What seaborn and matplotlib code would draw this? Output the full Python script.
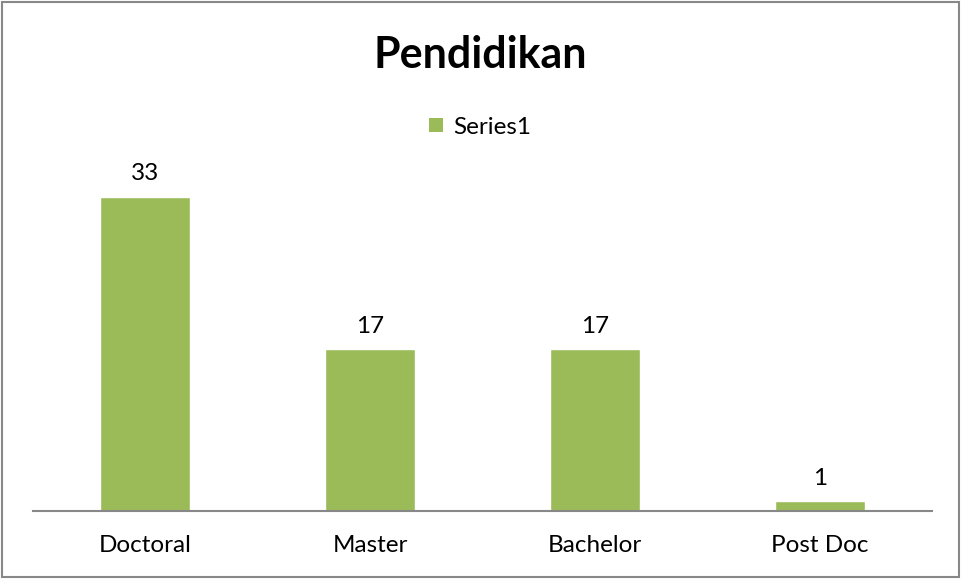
import matplotlib
matplotlib.use("Agg")
import matplotlib.pyplot as plt
import seaborn as sns
from matplotlib.patches import Patch, Rectangle

categories = ["Doctoral", "Master", "Bachelor", "Post Doc"]
values = [33, 17, 17, 1]
series_name = "Series1"
title = "Pendidikan"

bar_color = "#9BBB59"

sns.set_style("white")
plt.rcParams["font.family"] = ["Lato", "DejaVu Sans"]
plt.rcParams["text.color"] = "black"

fig = plt.figure(figsize=(9.61, 5.79), dpi=100)
ax = fig.add_axes([33 / 961, 1 - 511 / 579, 899 / 961, 333.2 / 579])

sns.barplot(x=categories, y=values, color=bar_color, saturation=1, width=0.4,
            edgecolor="white", linewidth=1, ax=ax)
ax.set_xlim(-0.5, 3.5)
ax.set_ylim(0, 35)

for i, v in enumerate(values):
    ax.text(i, v + 1.3, str(v), ha="center", va="bottom", fontsize=17.5, color="black")

for s in ["top", "right", "left"]:
    ax.spines[s].set_visible(False)
ax.spines["bottom"].set_color("#888888")
ax.spines["bottom"].set_linewidth(1.5)
ax.set_yticks([])
ax.tick_params(axis="x", length=0, labelsize=17.5, pad=17, colors="black")
ax.set_xlabel("")
ax.set_ylabel("")

fig.text(0.5, 1 - 55 / 579, title, ha="center", va="center",
         fontsize=31, fontweight="bold", color="black")

handle = Patch(facecolor=bar_color, edgecolor="none")
fig.legend([handle], [series_name], loc="center", bbox_to_anchor=(0.5, 1 - 127 / 579),
           frameon=False, fontsize=17.5, handlelength=0.55, handleheight=0.55,
           handletextpad=0.45)

fig.patches.append(Rectangle((0.002, 0.003), 0.996, 0.994, transform=fig.transFigure,
                             fill=False, edgecolor="#888888", linewidth=1.5))

fig.savefig("out.png", dpi=100)
plt.close(fig)
